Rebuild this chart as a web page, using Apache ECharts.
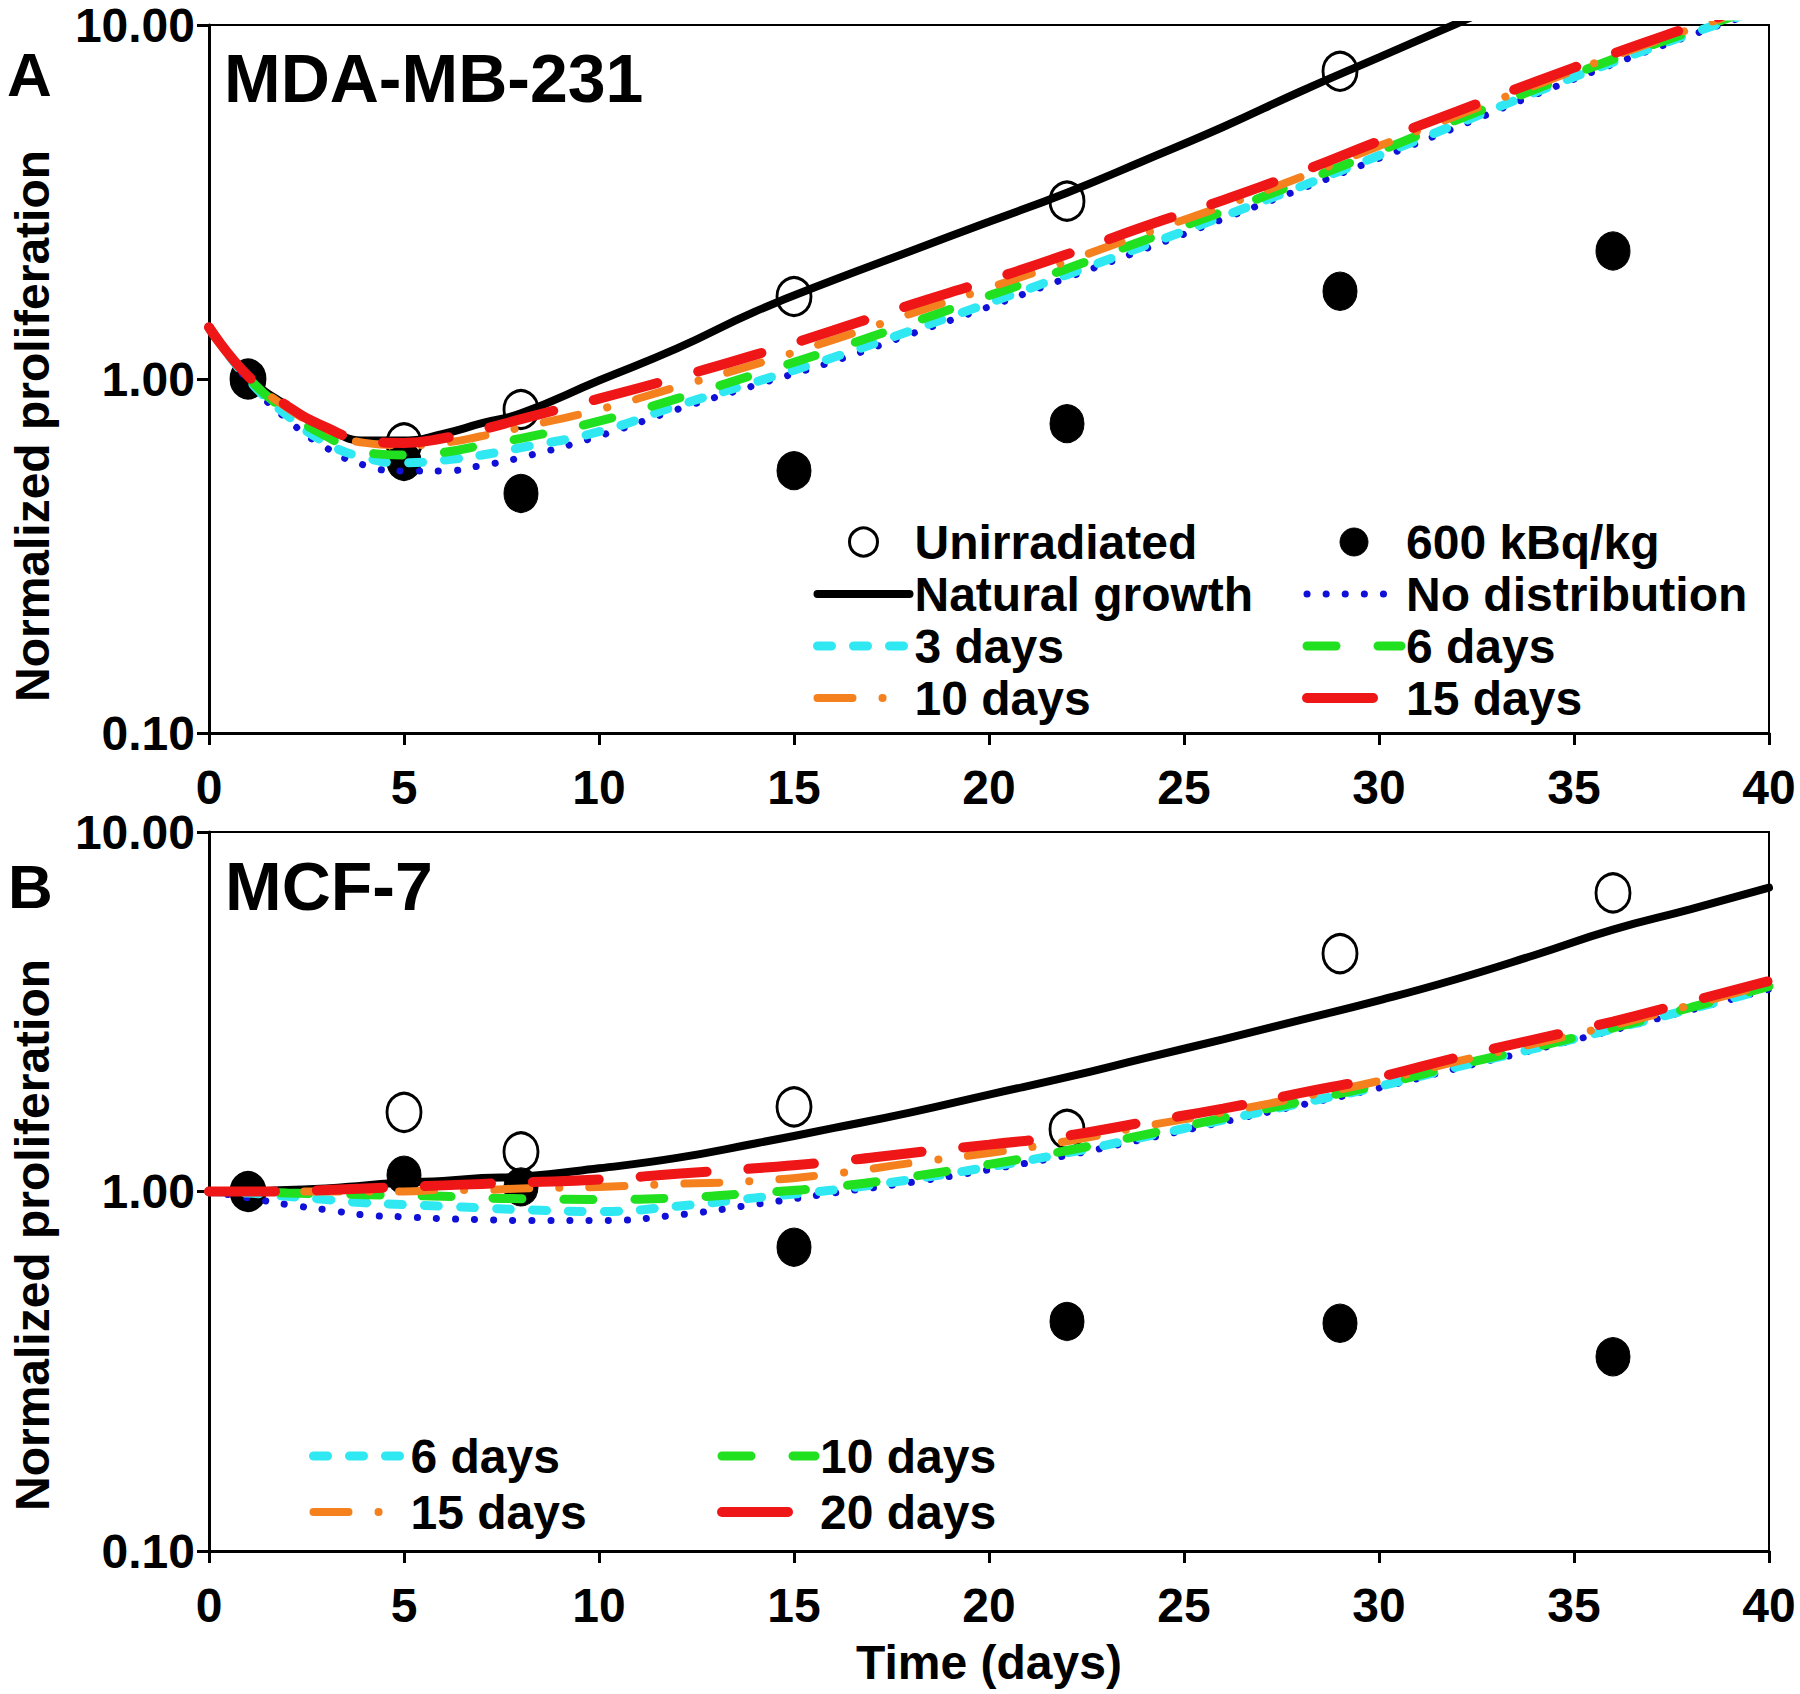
<!DOCTYPE html>
<html><head><meta charset="utf-8">
<script src="https://cdn.jsdelivr.net/npm/echarts@6/dist/echarts.min.js"></script>
<style>html,body{margin:0;padding:0;background:#fff}#chart{width:1800px;height:1694px}</style>
</head><body><div id="chart"></div>
<script>
// ---------- data ----------
const curveDays = [0,1,2,3,4,5,6,7,8,10,12,14,16,18,20,22,24,26,28,30,32,34,36,38,40];
const sampleDays = [1,5,8,15,22,29,36];
const xTickLabels = ['0','5','10','15','20','25','30','35','40'];

// Panel A: MDA-MB-231
const aNatural = [1.40,1.02,0.84,0.73,0.67,0.67,0.70,0.75,0.80,0.99,1.22,1.55,1.90,2.30,2.78,3.36,4.15,5.15,6.5,8.1,10.1,12.6,15.5,19,23];
const aNoDist  = [1.40,0.99,0.77,0.64,0.57,0.55,0.55,0.57,0.60,0.69,0.82,0.96,1.12,1.34,1.60,1.93,2.33,2.83,3.44,4.20,5.15,6.35,7.75,9.35,11.2];
const a3days   = [1.40,1.00,0.79,0.66,0.60,0.58,0.59,0.61,0.64,0.71,0.84,0.98,1.15,1.37,1.64,1.97,2.38,2.88,3.50,4.28,5.25,6.45,7.85,9.45,11.3];
const a6days   = [1.40,1.01,0.81,0.69,0.62,0.61,0.62,0.65,0.68,0.76,0.88,1.03,1.21,1.44,1.72,2.05,2.47,2.97,3.60,4.40,5.40,6.58,8.0,9.6,11.5];
const a10days  = [1.40,1.02,0.83,0.72,0.66,0.65,0.66,0.69,0.73,0.82,0.95,1.10,1.29,1.53,1.81,2.15,2.58,3.08,3.72,4.55,5.55,6.75,8.15,9.75,11.6];
const a15days  = [1.40,1.02,0.84,0.73,0.67,0.66,0.68,0.72,0.77,0.88,1.01,1.17,1.37,1.62,1.90,2.25,2.70,3.20,3.85,4.70,5.70,6.90,8.30,9.90,11.8];
const aUnirr   = [1.00,0.66,0.82,1.71,3.18,7.40,null];
const a600     = [1.00,0.585,0.475,0.551,0.748,1.77,2.30];

// Panel B: MCF-7
const bNatural = [1.0,1.0,1.01,1.02,1.04,1.06,1.07,1.09,1.10,1.16,1.24,1.36,1.50,1.66,1.86,2.08,2.35,2.65,3.0,3.40,3.90,4.55,5.35,6.1,7.0];
const bNoDist  = [1.0,0.96,0.92,0.89,0.86,0.85,0.84,0.835,0.83,0.83,0.86,0.92,0.99,1.06,1.15,1.26,1.40,1.56,1.74,1.94,2.20,2.48,2.81,3.20,3.65];
const b6days   = [1.0,0.99,0.97,0.95,0.93,0.92,0.91,0.90,0.89,0.88,0.91,0.96,1.01,1.08,1.17,1.28,1.42,1.58,1.76,1.96,2.22,2.50,2.83,3.22,3.67];
const b10days  = [1.0,1.0,0.99,0.985,0.98,0.975,0.97,0.96,0.955,0.95,0.96,0.99,1.03,1.10,1.19,1.30,1.44,1.60,1.78,1.98,2.24,2.52,2.85,3.25,3.72];
const b15days  = [1.0,1.0,1.0,1.0,1.0,1.0,1.01,1.01,1.02,1.03,1.05,1.07,1.12,1.20,1.28,1.38,1.52,1.66,1.83,2.03,2.30,2.58,2.90,3.30,3.78];
const b20days  = [1.0,1.0,1.0,1.01,1.02,1.03,1.04,1.05,1.06,1.08,1.12,1.16,1.21,1.28,1.35,1.43,1.56,1.70,1.88,2.08,2.36,2.65,2.97,3.38,3.85];
const bUnirr   = [1.00,1.66,1.29,1.72,1.49,4.59,6.77];
const b600     = [1.00,1.11,1.03,0.70,0.435,0.43,0.347];

// ---------- styles ----------
const FONT = '"Liberation Sans", Arial, sans-serif';
const ST = {
  natural: {color:'#000000', width:8, type:'solid', cap:'round'},
  nodist:  {color:'#1010d8', width:7, type:[0.1,19], cap:'round'},
  cyan:    {color:'#30e8f2', width:9, type:[14,22], cap:'round'},
  green:   {color:'#20e020', width:9, type:[29,42], cap:'round'},
  orange:  {color:'#f5801e', width:8, type:[35,30,0.1,30], cap:'round'},
  red:     {color:'#ee1616', width:10, type:[66,42], cap:'round'}
};

function pairs(xs, ys){ const out=[]; xs.forEach((x,i)=>{ if(ys[i]!=null) out.push([x, ys[i]]); }); return out; }
function lineS(name, idx, vals, st){
  return {name, type:'line', xAxisIndex:idx, yAxisIndex:idx, data:pairs(curveDays, vals),
    smooth:true, symbol:'none', clip:true, lineStyle:Object.assign({opacity:1}, st), itemStyle:{color:st.color}, silent:true};
}
function scat(name, idx, vals, filled){
  return {name, type:'scatter', xAxisIndex:idx, yAxisIndex:idx, data:pairs(sampleDays, vals),
    symbol:'circle', symbolSize:[34,38], clip:false, silent:true,
    itemStyle: filled ? {color:'#000', borderColor:'#000', borderWidth:1, opacity:1}
                      : {color:'rgba(255,255,255,0)', borderColor:'#000', borderWidth:3, opacity:1}};
}

const series = [
  lineS('A|Natural growth',0,aNatural,ST.natural),
  lineS('A|No distribution',0,aNoDist,ST.nodist),
  lineS('A|3 days',0,a3days,ST.cyan),
  lineS('A|6 days',0,a6days,ST.green),
  lineS('A|10 days',0,a10days,ST.orange),
  lineS('A|15 days',0,a15days,ST.red),
  scat('A|Unirradiated',0,aUnirr,false),
  scat('A|600 kBq/kg',0,a600,true),
  lineS('B|Natural growth',1,bNatural,ST.natural),
  lineS('B|No distribution',1,bNoDist,ST.nodist),
  lineS('B|6 days',1,b6days,ST.cyan),
  lineS('B|10 days',1,b10days,ST.green),
  lineS('B|15 days',1,b15days,ST.orange),
  lineS('B|20 days',1,b20days,ST.red),
  scat('B|Unirradiated',1,bUnirr,false),
  scat('B|600 kBq/kg',1,b600,true)
];

const labelStyle = {fontSize:48, fontWeight:'bold', color:'#000', fontFamily:FONT};
function xAx(idx, withName){
  const ax = {gridIndex:idx, type:'value', min:0, max:40, interval:5,
    axisLine:{show:true, onZero:false, lineStyle:{color:'#000', width:3}},
    axisTick:{show:true, length:12, lineStyle:{color:'#000', width:3}},
    axisLabel:Object.assign({margin:30, showMinLabel:true, showMaxLabel:true,
      formatter:(v)=>xTickLabels[Math.round(v/5)]}, labelStyle),
    splitLine:{show:false}};
  if(withName){ Object.assign(ax,{name:'Time (days)', nameLocation:'middle', nameGap:87,
      nameTextStyle:labelStyle}); }
  return ax;
}
function yAx(idx){
  return {gridIndex:idx, type:'log', logBase:10, min:0.1, max:10,
    axisLine:{show:true, lineStyle:{color:'#000', width:3}},
    axisTick:{show:true, length:12, lineStyle:{color:'#000', width:3}},
    minorTick:{show:false}, splitLine:{show:false}, minorSplitLine:{show:false},
    axisLabel:Object.assign({margin:14, showMinLabel:true, showMaxLabel:true,
      formatter:(v)=>Number(v).toFixed(2)}, labelStyle)};
}

function legend(left, top, gap, w, items){
  return {orient:'vertical', left, top, padding:0, itemGap:gap, itemWidth:w, itemHeight:28,
    selectedMode:false, textStyle:Object.assign({}, labelStyle),
    formatter:(n)=>n.split('|')[1],
    lineStyle:{width:'inherit'}, itemStyle:{borderWidth:'inherit'},
    data: items.map(n => n.endsWith('Unirradiated')||n.endsWith('kBq/kg') ? {name:n} : {name:n, itemStyle:{opacity:0}})};
}

function txt(x, y, text, size, extra){
  return Object.assign({type:'text', x, y, silent:true,
    style:{text, fontSize:size, fontWeight:'bold', fontFamily:FONT, fill:'#000', align:'left', verticalAlign:'middle'}}, extra||{});
}

const option = {
  animation:false,
  backgroundColor:'#fff',
  grid:[
    {left:209, right:31, top:25, height:708, show:true, borderColor:'#000', borderWidth:2, backgroundColor:'transparent', containLabel:false, outerBoundsMode:'none'},
    {left:209, right:31, top:832, height:719, show:true, borderColor:'#000', borderWidth:2, backgroundColor:'transparent', containLabel:false, outerBoundsMode:'none'}
  ],
  xAxis:[xAx(0,false), xAx(1,true)],
  yAxis:[yAx(0), yAx(1)],
  legend:[
    legend(813, 518, 4, 92, ['A|Unirradiated','A|Natural growth','A|3 days','A|10 days']),
    legend(1302, 518, 4, 94, ['A|600 kBq/kg','A|No distribution','A|6 days','A|15 days']),
    legend(309, 1432, 8, 92, ['B|6 days','B|15 days']),
    legend(717, 1432, 8, 93, ['B|10 days','B|20 days'])
  ],
  graphic:[
    txt(7, 74, 'A', 62),
    txt(224, 78, 'MDA-MB-231', 68),
    txt(8, 886, 'B', 62),
    txt(225, 886, 'MCF-7', 68),
    {type:'text', x:32, y:426, rotation:Math.PI/2, silent:true,
      style:{text:'Normalized proliferation', fontSize:48, fontWeight:'bold', fontFamily:FONT, fill:'#000', align:'center', verticalAlign:'middle'}},
    {type:'text', x:32, y:1235, rotation:Math.PI/2, silent:true,
      style:{text:'Normalized proliferation', fontSize:48, fontWeight:'bold', fontFamily:FONT, fill:'#000', align:'center', verticalAlign:'middle'}}
  ],
  series
};

const chart = echarts.init(document.getElementById('chart'), null, {renderer:'svg', width:1800, height:1694});
chart.setOption(option);
</script>
</body></html>
